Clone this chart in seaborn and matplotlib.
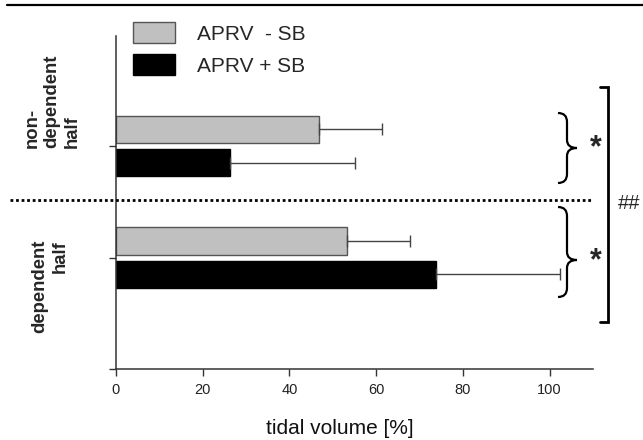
import matplotlib
matplotlib.use("Agg")
import matplotlib.pyplot as plt
import seaborn as sns
import pandas as pd
from matplotlib.lines import Line2D
from matplotlib.patches import PathPatch, Patch
from matplotlib.path import Path
from matplotlib.transforms import Affine2D, blended_transform_factory

# ---- data ----
groups = ["non-dependent half", "dependent half"]
series = ["APRV  - SB", "APRV + SB"]
mean_minus = [46.9, 53.3]
mean_plus = [26.3, 73.8]
sd_minus = [14.5, 14.6]
sd_plus = [28.9, 28.7]
xticks = [0, 20, 40, 60, 80, 100]
xlabel = "tidal volume [%]"

sns.set_theme(style="white")
plt.rcParams["font.family"] = ["Liberation Sans", "DejaVu Sans"]

W, H = 643, 440
fig = plt.figure(figsize=(W / 100, H / 100), dpi=100)
px = Affine2D().scale(1, -1).translate(0, H)  # pixel coords (top-left origin)

ax = fig.add_axes([116 / W, 1 - 369 / H, (593 - 116) / W, (369 - 36) / H])

df = pd.DataFrame({
    "group": groups * 2,
    "series": [series[0]] * 2 + [series[1]] * 2,
    "value": mean_minus + mean_plus,
    "err": sd_minus + sd_plus,
})

face = {series[0]: "#c0c0c0", series[1]: "#000000"}
edge = {series[0]: "#555555", series[1]: "#000000"}

sns.barplot(data=df, x="value", y="group", hue="series", hue_order=series,
            order=groups, orient="h", palette=face, errorbar=None,
            width=0.6, gap=0.18, legend=False, ax=ax, linewidth=1.0)

# per-series edges + error bars
for cont, s in zip(ax.containers, series):
    sub = df[df["series"] == s].set_index("group").loc[groups]
    ys = []
    xs = []
    for patch in cont.patches:
        patch.set_edgecolor(edge[s])
        patch.set_linewidth(1.0)
        ys.append(patch.get_y() + patch.get_height() / 2)
        xs.append(patch.get_x() + patch.get_width())
    ax.errorbar(xs, ys, xerr=[[0] * len(xs), list(sub["err"])], fmt="none",
                ecolor="#444444", elinewidth=1.0, capsize=4, capthick=1.0, zorder=1)

ax.set_xlim(0, 110)
ax.set_ylim(2.0, -0.987)
ax.set_xticks(xticks)
ax.set_xticklabels([str(t) for t in xticks], fontsize=10.5, color="#222222")
ax.set_yticks([0, 1, 2])
ax.set_yticklabels(["", "", ""])
ax.set_ylabel("")
ax.set_xlabel("")
for sp in ["top", "right"]:
    ax.spines[sp].set_visible(False)
for sp in ["left", "bottom"]:
    ax.spines[sp].set_color("#333333")
    ax.spines[sp].set_linewidth(1.1)
ax.tick_params(axis="both", direction="out", length=5, width=1.0, color="#333333", left=True, bottom=True)
ax.tick_params(axis="x", pad=5)

# x label
fig.text(340 / W, 1 - 428 / H, xlabel, ha="center", va="center", fontsize=15, color="#111111")

# group labels (rotated, bold)
fig.text(52 / W, 1 - 148 / H, "non-\ndependent\nhalf", rotation=90, ha="center", va="bottom",
         multialignment="left", fontsize=13.3, fontweight="bold", linespacing=1.25)
fig.text(50 / W, 1 - 240 / H, "dependent\nhalf", rotation=90, ha="center", va="top",
         multialignment="right", fontsize=13.3, fontweight="bold", linespacing=1.25)

# dotted separator
tr = blended_transform_factory(fig.transFigure, ax.transData)
fig.add_artist(Line2D([10 / W, 593 / W], [0.485, 0.485], transform=tr, color="black",
                      linestyle=(0, (1, 1.0)), linewidth=2.0))

# top border line
fig.add_artist(Line2D([7 / W, 1.0], [1 - 5 / H, 1 - 5 / H], transform=fig.transFigure,
                      color="black", linewidth=1.6))

# curly braces
def brace(y0, y1, ym, xl=558, xv=567, xp=577):
    verts = [(xl, y0), (xv, y0), (xv, y0 + 9),
             (xv, ym - 8),
             (xv, ym), (xp, ym),
             (xv, ym), (xv, ym + 8),
             (xv, y1 - 9),
             (xv, y1), (xl, y1)]
    codes = [Path.MOVETO, Path.CURVE3, Path.CURVE3,
             Path.LINETO,
             Path.CURVE3, Path.CURVE3,
             Path.CURVE3, Path.CURVE3,
             Path.LINETO,
             Path.CURVE3, Path.CURVE3]
    pp = PathPatch(Path(verts, codes), transform=px, facecolor="none",
                   edgecolor="black", linewidth=1.6)
    fig.add_artist(pp)

brace(113, 183, 148)
brace(207, 297, 260)

fig.text(596 / W, 1 - 148 / H, "*", ha="center", va="center", fontsize=22, fontweight="bold")
fig.text(596 / W, 1 - 261 / H, "*", ha="center", va="center", fontsize=22, fontweight="bold")

# bracket
fig.add_artist(Line2D([600, 608, 608, 600], [87, 87, 322, 322], transform=px,
                      color="black", linewidth=2.0, solid_joinstyle="miter"))
fig.text(629 / W, 1 - 203 / H, "##", ha="center", va="center", fontsize=14.5)

# legend
handles = [Patch(facecolor=face[s], edgecolor=edge[s], linewidth=1.0) for s in series]
fig.legend(handles, series, loc="upper left", bbox_to_anchor=(133 / W, 1 - 22 / H),
           bbox_transform=fig.transFigure, frameon=False, fontsize=15,
           handlelength=2.0, handleheight=1.2, handletextpad=1.05, labelspacing=0.5,
           borderpad=0, borderaxespad=0)

fig.savefig("out.png", dpi=100)
